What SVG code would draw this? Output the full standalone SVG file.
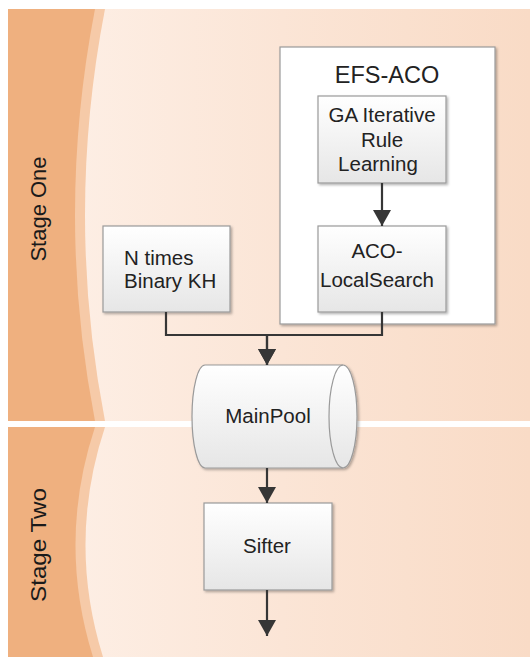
<svg xmlns="http://www.w3.org/2000/svg" width="530" height="660" viewBox="0 0 530 660">
<style>
.lbl{font-family:"Liberation Sans",Arial,sans-serif;font-size:20.5px;fill:#222222;text-anchor:middle}
.stage{font-family:"Liberation Sans",Arial,sans-serif;font-size:22px;fill:#1a1a1a;text-anchor:middle}
.box{fill:url(#boxg);stroke:#9a9a9a;stroke-width:1.2;filter:url(#sh)}
.conn{fill:none;stroke:#363636;stroke-width:2.2}
</style>
<defs>
<linearGradient id="boxg" x1="0" y1="0" x2="0" y2="1">
<stop offset="0" stop-color="#ffffff"/>
<stop offset="1" stop-color="#e6e6e6"/>
</linearGradient>
<linearGradient id="lightg" gradientUnits="userSpaceOnUse" x1="80" y1="0" x2="530" y2="0">
<stop offset="0" stop-color="#fdeee4"/>
<stop offset="0.45" stop-color="#fbe5d6"/>
<stop offset="1" stop-color="#f9dbc6"/>
</linearGradient>
<filter id="sh" x="-10%" y="-10%" width="130%" height="130%">
<feDropShadow dx="1.5" dy="1.5" stdDeviation="1" flood-color="#000" flood-opacity="0.3"/>
</filter>
<marker id="arr" viewBox="0 0 16 18" refX="16" refY="9" markerWidth="16" markerHeight="18" markerUnits="userSpaceOnUse" orient="auto">
<path d="M0,0 L16,9 L0,18 z" fill="#363636"/>
</marker>
</defs>
<rect width="530" height="660" fill="#ffffff"/>
<g id="lane-stage-one">
<rect x="8" y="9" width="522" height="412" fill="#efb07f"/>
<path d="M95 9 Q55 215 95 421 L530 421 L530 9 Z" fill="#f6caa8"/>
<path d="M105 9 Q65 215 105 421 L530 421 L530 9 Z" fill="url(#lightg)"/>
<text class="stage" transform="rotate(-90 46 209)" x="46" y="209">Stage One</text>
</g>
<g id="lane-stage-two">
<rect x="8" y="427" width="522" height="230" fill="#efb07f"/>
<path d="M95 427 Q57 542 93 657 L530 657 L530 427 Z" fill="#f6caa8"/>
<path d="M105 427 Q67 542 103 657 L530 657 L530 427 Z" fill="url(#lightg)"/>
<text class="stage" transform="rotate(-90 46 545)" x="46" y="545" textLength="114" lengthAdjust="spacingAndGlyphs">Stage Two</text>
</g>
<g id="efs-aco">
<rect x="280" y="47" width="215" height="277" fill="#ffffff" stroke="#9a9a9a" stroke-width="1.2" filter="url(#sh)"/>
<text class="lbl" x="387" y="83" style="font-size:23.5px">EFS-ACO</text>
</g>
<g id="ga-rule-learning">
<rect class="box" x="318" y="96" width="128" height="87"/>
<text class="lbl" x="382" y="122">GA Iterative</text>
<text class="lbl" x="382" y="147">Rule</text>
<text class="lbl" x="378" y="171">Learning</text>
</g>
<g id="aco-localsearch">
<rect class="box" x="318" y="226" width="128" height="86"/>
<text class="lbl" x="377" y="258">ACO-</text>
<text class="lbl" x="377" y="287">LocalSearch</text>
</g>
<g id="n-times-binary-kh">
<rect class="box" x="103" y="226" width="127" height="86"/>
<text class="lbl" x="124" y="265" style="text-anchor:start">N times</text>
<text class="lbl" x="124" y="288" style="text-anchor:start">Binary KH</text>
</g>
<rect x="8" y="421" width="522" height="6" fill="#ffffff"/>
<g id="mainpool">
<path class="box" d="M205 365 H343 A14 51.5 0 0 1 343 468 H205 A13 51.5 0 0 1 205 365 Z"/>
<path d="M343 365 A14 51.5 0 0 0 343 468" fill="none" stroke="#9a9a9a" stroke-width="1.2"/>
<text class="lbl" x="268" y="423">MainPool</text>
</g>
<g id="sifter">
<rect class="box" x="204" y="503" width="128" height="87"/>
<text class="lbl" x="267" y="553">Sifter</text>
</g>
<g id="connectors">
<path class="conn" d="M382 183 V226" marker-end="url(#arr)"/>
<path class="conn" d="M166 312 V335 H267 V365" marker-end="url(#arr)"/>
<path class="conn" d="M382 312 V335 H267 V365" marker-end="url(#arr)"/>
<path class="conn" d="M267 468 V503" marker-end="url(#arr)"/>
<path class="conn" d="M267 590 V636" marker-end="url(#arr)"/>
</g>
</svg>
